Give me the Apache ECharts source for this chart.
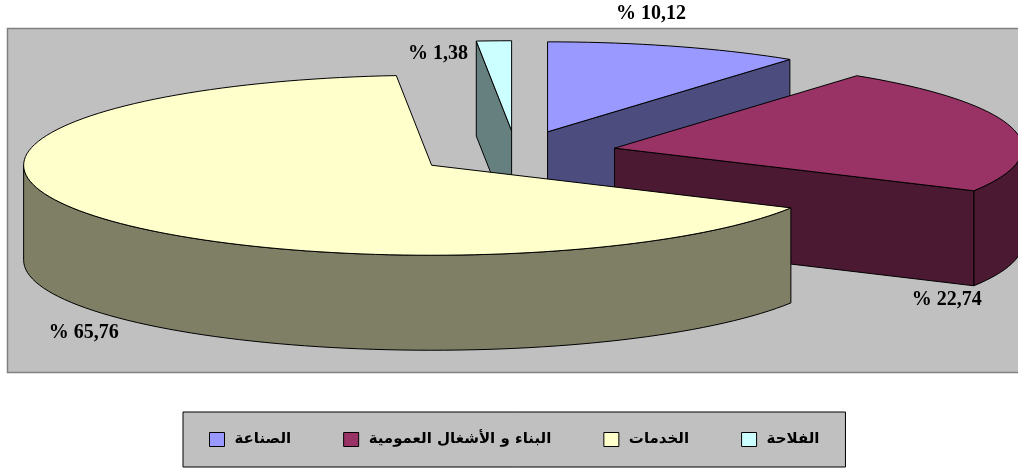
<!DOCTYPE html>
<html>
<head>
<meta charset="utf-8">
<style>
  html, body { margin: 0; padding: 0; background: #fff; }
  #chart { width: 1018px; height: 471px; }
</style>
<script src="https://cdn.jsdelivr.net/npm/echarts@6/dist/echarts.min.js"></script>
</head>
<body>
<div id="chart"></div>
<script>
// بيانات التوزيع حسب القطاع (%)
const categories = ['الصناعة', 'البناء و الأشغال العمومية', 'الخدمات', 'الفلاحة'];
const shares = [10.12, 22.74, 65.76, 1.38];

// ألوان الوجه العلوي والجوانب
const topColors = ['#9999FF', '#993366', '#FFFFCC', '#CCFFFF'];
const sideColors = ['#4C4C7F', '#4C1933', '#7F7F66', '#667F7F'];

// هندسة القرص (بكسل)
const pie = { cx: 516, cy: 153, rx: 408, ry: 90, depth: 95, explode: 0.2475 };
const labelNudge = [[-24, -33], [-66, 171], [-7, 118], [-56, 13]];

const total = shares.reduce((a, b) => a + b, 0);

// حساب الزوايا ورأس كل قطعة
const slices = [];
let cum = 0;
shares.forEach((v, i) => {
  const a1 = (cum / total) * Math.PI * 2;
  cum += v;
  const a2 = (cum / total) * Math.PI * 2;
  const mid = (a1 + a2) / 2;
  const vx = pie.cx + pie.explode * pie.rx * Math.sin(mid);
  const vy = pie.cy - pie.explode * pie.ry * Math.cos(mid);
  slices.push({ a1, a2, mid, vx, vy });
});

// ترتيب الرسم من الخلف إلى الأمام
const order = slices.map((s, i) => i).sort((a, b) => slices[a].vy - slices[b].vy);
const zOf = [];
order.forEach((idx, rank) => { zOf[idx] = 2 + rank; });

function pt(s, a, dz) {
  return [s.vx + pie.rx * Math.sin(a), s.vy - pie.ry * Math.cos(a) + (dz || 0)];
}

function arc(s, from, to, dz) {
  const n = Math.max(2, Math.ceil(Math.abs(to - from) / (Math.PI / 90)));
  const pts = [];
  for (let k = 0; k <= n; k++) {
    pts.push(pt(s, from + (to - from) * k / n, dz));
  }
  return pts;
}

function renderSlice(i) {
  const s = slices[i];
  const D = pie.depth;
  const children = [];
  const lineStyle = { stroke: '#000', lineWidth: 1 };

  // الجدار الخارجي المرئي
  const ws = Math.max(s.a1, Math.PI / 2);
  const we = Math.min(s.a2, Math.PI * 1.5);
  if (ws < we) {
    const pts = arc(s, ws, we, 0).concat(arc(s, we, ws, D));
    children.push({ type: 'polygon', shape: { points: pts }, style: Object.assign({ fill: sideColors[i] }, lineStyle) });
  }

  // الوجهان الجانبيان
  const radial = (a) => {
    const p = pt(s, a, 0);
    return [[s.vx, s.vy], p, [p[0], p[1] + D], [s.vx, s.vy + D]];
  };
  if (Math.cos(s.a1 - Math.PI / 2) < -1e-3) {
    children.push({ type: 'polygon', shape: { points: radial(s.a1) }, style: Object.assign({ fill: sideColors[i] }, lineStyle) });
  }
  if (Math.cos(s.a2 + Math.PI / 2) < -1e-3) {
    children.push({ type: 'polygon', shape: { points: radial(s.a2) }, style: Object.assign({ fill: sideColors[i] }, lineStyle) });
  }

  // الوجه العلوي
  const topPts = [[s.vx, s.vy]].concat(arc(s, s.a1, s.a2, 0));
  children.push({ type: 'polygon', shape: { points: topPts }, style: Object.assign({ fill: topColors[i] }, lineStyle) });

  // التسمية
  const anchor = pt(s, s.mid, 0);
  children.push({
    type: 'text',
    z2: 100,
    x: anchor[0] + labelNudge[i][0],
    y: anchor[1] + labelNudge[i][1],
    style: {
      text: '% ' + shares[i].toFixed(2).replace('.', ','),
      font: 'bold 20px "Liberation Serif"',
      fill: '#000',
      align: 'center',
      verticalAlign: 'middle'
    }
  });

  return { type: 'group', children };
}

const chart = echarts.init(document.getElementById('chart'), null, { renderer: 'canvas' });

const option = {
  animation: false,
  backgroundColor: '#fff',
  graphic: [{
    type: 'rect',
    z: -1,
    shape: { x: 7.5, y: 28.5, width: 1020, height: 344 },
    style: { fill: '#C0C0C0', stroke: '#808080', lineWidth: 1.5 }
  }],
  legend: {
    data: categories,
    left: 183,
    top: 412,
    selectedMode: false,
    backgroundColor: '#C0C0C0',
    borderColor: '#000',
    borderWidth: 1,
    borderRadius: 0,
    padding: [20, 26, 20, 26],
    itemGap: 52,
    itemWidth: 15,
    itemHeight: 14,
    icon: 'rect',
    itemStyle: { borderColor: '#000', borderWidth: 1 },
    textStyle: { fontFamily: 'DejaVu Sans', fontWeight: 'bold', fontSize: 15, color: '#000', padding: [0, 0, 0, 5] }
  },
  series: categories.map((name, i) => ({
    type: 'custom',
    name: name,
    coordinateSystem: 'none',
    z: zOf[i],
    itemStyle: { color: topColors[i] },
    data: [shares[i]],
    renderItem: () => renderSlice(i)
  }))
};

chart.setOption(option);
</script>
</body>
</html>
